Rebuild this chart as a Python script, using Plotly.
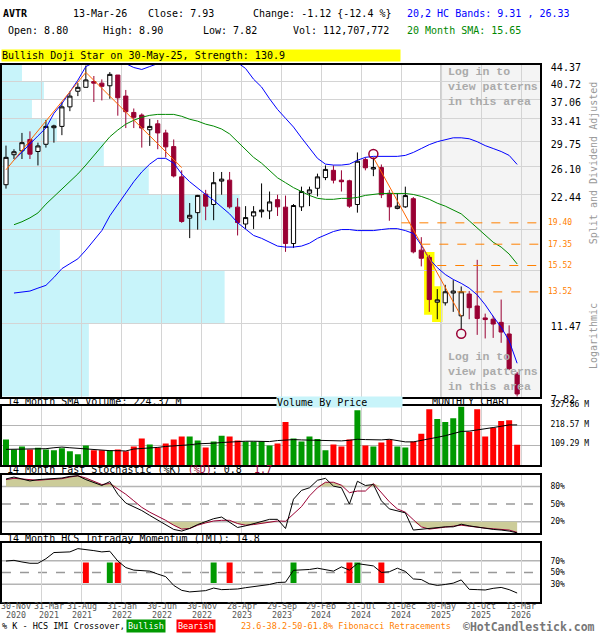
import math
import plotly.graph_objects as go

W, H = 600, 640
MONO = "DejaVu Sans Mono"
RED = "#990033"

# ── Data (monthly, Nov-2020 .. Mar-2026) ──────────────────────────────────────
months = list(range(65))

opens = [23.68, 27.70, 28.27, 30.00, 28.17, 29.25, 31.90, 32.12, 35.57, 38.60,
         39.40, 40.60, 40.27, 39.72, 42.01, 37.63, 34.55, 34.08, 31.56, 32.55,
         31.04, 28.90, 24.67, 19.88, 20.46, 22.54, 21.35, 24.13, 24.25, 21.06,
         19.28, 20.11, 20.56, 20.64, 21.90, 21.06, 17.41, 21.09, 22.65, 23.24,
         24.58, 25.53, 24.25, 24.17, 21.35, 27.00, 25.70, 25.90, 22.65, 20.92,
         21.09, 22.01, 16.82, 16.20, 12.81, 12.77, 13.44, 11.93, 13.37, 12.56,
         11.80, 11.72, 11.53, 10.85, 8.80]
highs = [29.05, 28.50, 31.04, 31.30, 29.50, 33.22, 32.40, 36.49, 38.52, 40.27,
         44.15, 41.80, 41.06, 42.66, 42.01, 38.86, 35.27, 34.38, 33.39, 33.22,
         31.56, 30.00, 25.53, 21.52, 22.45, 23.05, 25.31, 25.31, 25.31, 22.08,
         21.17, 21.17, 23.84, 22.85, 22.47, 22.37, 21.40, 23.44, 23.44, 25.09,
         26.19, 26.19, 25.53, 24.30, 28.03, 27.32, 27.30, 26.32, 23.05, 22.65,
         23.44, 22.20, 18.00, 16.40, 13.72, 14.03, 14.38, 13.91, 13.58, 15.99,
         12.07, 11.93, 12.99, 11.35, 8.90]
lows = [23.20, 27.08, 27.08, 27.08, 26.19, 28.75, 29.50, 30.68, 34.78, 37.63,
        39.40, 36.49, 36.79, 37.11, 33.97, 31.84, 31.84, 28.75, 29.00, 28.50,
        27.32, 24.60, 19.40, 17.91, 18.72, 19.67, 19.67, 22.47, 20.90, 18.16,
        18.79, 18.79, 19.94, 19.78, 20.11, 16.67, 17.02, 20.64, 21.17, 22.27,
        24.25, 23.84, 22.85, 20.98, 20.46, 25.53, 24.76, 22.08, 19.61, 20.82,
        20.98, 16.54, 15.45, 12.18, 11.72, 12.59, 12.18, 11.08, 11.72, 10.80,
        10.60, 10.63, 10.36, 8.98, 7.82]
closes = [27.32, 28.13, 29.50, 27.78, 29.00, 32.12, 32.20, 35.57, 37.63, 39.40,
          40.95, 40.27, 39.60, 42.16, 37.30, 34.68, 33.68, 31.84, 32.12, 31.04,
          28.86, 24.79, 19.54, 20.18, 22.39, 21.17, 23.93, 24.38, 21.09, 19.43,
          19.94, 20.56, 20.74, 21.64, 21.09, 17.41, 21.24, 22.85, 23.05, 24.67,
          25.65, 24.25, 24.05, 21.17, 26.77, 25.87, 25.90, 22.47, 21.09, 21.17,
          22.37, 16.67, 16.12, 12.99, 12.97, 13.53, 13.58, 13.53, 12.45, 11.77,
          11.70, 11.43, 10.96, 9.05, 7.93]

bb_upper = [None, 26.91, 28.03, 29.35, 30.57, 31.85, 34.38, 36.18, 38.46, 40.90,
            43.92, 44.83, 45.28, 45.52, 45.06, 44.60, 43.70, 43.25, 43.92, 44.60,
            45.06, 45.28, 45.52, 45.52, 45.28, 44.83, 44.83, 45.06, 45.06, 44.83,
            43.47, 41.10, 39.46, 37.11, 35.09, 33.51, 32.01, 30.26, 28.61, 27.18,
            26.37, 26.24, 26.24, 26.37, 26.91, 27.32, 27.46, 27.46, 27.46, 27.46,
            27.60, 28.03, 28.61, 29.20, 29.65, 29.96, 30.26, 30.26, 30.11, 29.65,
            29.05, 28.61, 28.17, 27.60, 26.33]
bb_lower = [None, 13.44, 13.51, 13.58, 13.79, 13.99, 14.58, 15.27, 15.67, 16.07,
            16.82, 17.71, 18.63, 20.12, 21.39, 22.73, 24.05, 25.31, 26.37, 27.18,
            27.18, 26.50, 25.05, 24.05, 23.21, 22.50, 21.83, 21.06, 20.33, 19.41,
            18.73, 18.16, 17.89, 17.53, 17.18, 17.09, 17.09, 17.18, 17.44, 17.89,
            18.25, 18.54, 18.73, 18.73, 18.63, 18.63, 18.63, 18.73, 18.82, 18.82,
            18.63, 18.35, 17.26, 16.07, 15.35, 14.81, 14.43, 14.14, 13.79, 13.31,
            12.64, 11.89, 11.24, 10.47, 9.31]
sma20 = [None, 19.21, 19.51, 19.91, 20.43, 21.39, 22.27, 23.09, 24.05, 25.05,
         26.24, 27.60, 28.90, 30.42, 31.52, 32.50, 33.17, 33.69, 34.03, 34.20,
         34.20, 34.20, 33.86, 33.34, 33.01, 32.50, 32.17, 31.68, 30.88, 29.65,
         28.46, 27.32, 26.50, 25.57, 24.55, 23.93, 23.32, 22.85, 22.39, 22.05,
         21.94, 21.94, 22.05, 22.05, 22.16, 22.39, 22.50, 22.62, 22.62, 22.62,
         22.62, 22.50, 22.27, 21.94, 21.50, 21.17, 20.75, 20.33, 19.61, 18.92,
         18.25, 17.53, 17.09, 16.48, 15.65]

# volume in millions
volumes = [142, 87, 104, 87, 97, 87, 82, 93, 77, 60,
           109, 82, 82, 82, 87, 77, 104, 148, 115, 98,
           120, 142, 159, 159, 137, 98, 131, 164, 159, 137,
           131, 131, 133, 109, 120, 240, 148, 131, 159, 146,
           82, 115, 104, 142, 306, 109, 104, 126, 142, 104,
           98, 131, 175, 312, 257, 240, 262, 327, 186, 312,
           159, 208, 246, 251, 112.7]
vol_sma = [87.4, 87.4, 89.3, 89.3, 89.3, 91.1, 96.5, 100.2, 96.5, 92.9,
           91.1, 85.6, 82.0, 80.1, 80.1, 78.3, 89.3, 91.1, 94.7, 98.4,
           103.8, 105.6, 109.3, 112.9, 118.4, 118.4, 122.0, 125.7, 129.3, 133.0,
           133.0, 133.0, 131.1, 131.1, 136.6, 140.3, 142.1, 140.3, 138.4, 136.6,
           136.6, 134.8, 134.8, 138.4, 143.9, 142.1, 140.3, 140.3, 143.9, 136.6,
           129.3, 129.3, 136.6, 145.7, 154.8, 163.9, 176.7, 187.6, 189.4, 194.9,
           204.0, 209.5, 216.8, 224.0, 224.37]

stoch_k = [92.8, 96.1, 92.8, 89.4, 91.7, 92.2, 93.3, 94.4, 97.2, 98.3,
           91.7, 86.1, 81.7, 88.3, 66.7, 51.7, 45.6, 38.9, 30.6, 22.2,
           13.9, 6.7, 3.9, 8.3, 15.0, 19.4, 25.0, 27.8, 18.3, 10.0,
           12.8, 16.7, 19.4, 23.9, 23.9, 8.3, 58.3, 73.3, 77.8, 90.6,
           93.9, 80.6, 77.8, 50.0, 88.9, 81.7, 83.3, 55.6, 41.7, 38.9,
           35.0, 5.6, 7.2, 8.9, 10.0, 11.1, 11.1, 15.6, 12.8, 10.6,
           8.3, 6.7, 5.6, 3.9, 0.8]
stoch_d = [91.7, 93.9, 92.8, 91.7, 90.6, 91.7, 92.8, 93.3, 96.1, 98.3,
           94.4, 88.9, 83.3, 85.0, 76.1, 66.7, 55.6, 44.4, 36.1, 29.4,
           22.2, 13.9, 7.2, 8.3, 13.9, 17.8, 21.1, 22.2, 22.2, 16.7,
           13.9, 15.0, 16.7, 19.4, 21.1, 20.6, 33.3, 45.6, 63.9, 77.8,
           87.2, 87.2, 82.2, 69.4, 72.2, 72.2, 85.0, 69.4, 53.9, 41.7,
           36.1, 23.3, 11.1, 7.2, 9.4, 10.6, 12.2, 13.9, 12.2, 10.0,
           8.9, 7.8, 6.7, 5.6, 1.7]
imi = [69.4, 70.6, 67.8, 65.6, 65.6, 73.3, 83.9, 83.9, 85.0, 90.6,
       89.4, 87.2, 85.0, 86.1, 69.4, 58.3, 53.9, 53.3, 52.2, 47.2,
       42.8, 27.8, 19.4, 16.7, 17.8, 18.9, 23.3, 20.6, 21.1, 21.7,
       23.9, 25.6, 26.7, 29.4, 32.8, 33.3, 53.6, 54.4, 55.0, 57.2,
       55.0, 52.2, 59.4, 53.9, 65.0, 62.8, 61.1, 50.0, 51.1, 57.2,
       51.7, 38.9, 37.8, 30.6, 27.8, 29.4, 31.7, 37.2, 21.1, 20.6,
       20.0, 22.8, 24.4, 20.6, 14.8]
bull_cross = [13, 26, 36, 44]
bear_cross = [10, 14, 28, 43, 47]

price_ticks = [7.82, 11.47, 15.13, 18.78, 22.44, 26.10, 29.75, 33.41, 37.06, 40.72, 44.37]
price_labels = ["7.82", "11.47", "", "", "22.44", "26.10", "29.75", "33.41", "37.06", "40.72", "44.37"]
vol_ticks = [109.29, 218.57, 327.86]
# volume by price, one value per band between consecutive price ticks (bottom first)
vbp_volume = [87, 223, 58, 238, 147, 102, 55, 30, 42, 20]

fib_levels = [19.40, 17.35, 15.52, 13.52]
fib_from = [49.5, 52, 54, 56.5]
zigzag_x = [0, 10, 22]
zigzag_y = [25.6, 42.6, 25.9]
trend_x = [46, 57]
trend_y = [27.3, 11.9]
pattern_x = [53, 54]
circle_x = [46, 57]
circle_y = [27.8, 10.86]

date_days = ["30-Nov", "31-Mar", "31-Aug", "31-Jan", "30-Jun", "30-Nov", "28-Apr",
             "29-Sep", "29-Feb", "31-Jul", "31-Dec", "30-May", "31-Oct", "13-Mar"]
date_years = ["2020", "2021", "2021", "2022", "2022", "2022", "2023",
              "2023", "2024", "2024", "2024", "2025", "2025", "2026"]

# ── Geometry helpers ──────────────────────────────────────────────────────────
X0 = -0.5
X1 = -0.5 + 539 / 8
grid_x = [4.5 + 5 * k for k in range(13)]


def py(y):
    return 1 - y / H


def px(x):
    return x / W


def note(text, x, y, size=10, color="black", family=MONO, **kw):
    d = dict(text=text, x=px(x), y=py(y), xref="paper", yref="paper",
             xanchor="left", yanchor="middle", showarrow=False,
             font=dict(family=family, size=size, color=color))
    d.update(kw)
    return d


fig = go.Figure()

# ── Price panel ──────────────────────────────────────────────────────────────
fig.add_trace(go.Scatter(x=months, y=bb_upper, mode="lines",
                         line=dict(color="#0000ff", width=1), xaxis="x", yaxis="y"))
fig.add_trace(go.Scatter(x=months, y=bb_lower, mode="lines",
                         line=dict(color="#0000ff", width=1), xaxis="x", yaxis="y"))
fig.add_trace(go.Scatter(x=months, y=sma20, mode="lines",
                         line=dict(color="#008800", width=1), xaxis="x", yaxis="y"))
fig.add_trace(go.Scatter(x=zigzag_x, y=zigzag_y, mode="lines",
                         line=dict(color="#ff6600", width=1), xaxis="x", yaxis="y"))
fig.add_trace(go.Scatter(x=trend_x, y=trend_y, mode="lines",
                         line=dict(color="#ff6600", width=1), xaxis="x", yaxis="y"))
for lvl, start in zip(fib_levels, fib_from):
    fig.add_trace(go.Scatter(x=[start, X1], y=[lvl, lvl], mode="lines",
                             line=dict(color="#ff8000", width=1, dash="dash"),
                             xaxis="x", yaxis="y"))

fig.add_trace(go.Candlestick(
    x=months, open=opens, high=highs, low=lows, close=closes,
    increasing=dict(line=dict(color="black", width=1), fillcolor="white"),
    decreasing=dict(line=dict(color=RED, width=1), fillcolor=RED),
    xaxis="x", yaxis="y",
))
fig.add_trace(go.Scatter(x=circle_x, y=circle_y, mode="markers",
                         marker=dict(symbol="circle-open", size=9, color=RED,
                                     line=dict(width=1.5)),
                         xaxis="x", yaxis="y"))

# ── Volume panel ─────────────────────────────────────────────────────────────
vol_colors = ["#009900" if c >= o else "#ff0000" for o, c in zip(opens, closes)]
fig.add_trace(go.Bar(x=months, y=volumes, width=0.75, marker=dict(color=vol_colors, line_width=0),
                     xaxis="x2", yaxis="y2"))
fig.add_trace(go.Scatter(x=months, y=vol_sma, mode="lines",
                         line=dict(color="black", width=1), xaxis="x2", yaxis="y2"))

# ── Stochastic panel ─────────────────────────────────────────────────────────
fig.add_trace(go.Scatter(x=months, y=[80] * len(months), mode="lines", line_width=0,
                         xaxis="x3", yaxis="y3"))
fig.add_trace(go.Scatter(x=months, y=[max(d, 80) for d in stoch_d], mode="lines", line_width=0,
                         fill="tonexty", fillcolor="#cccc99", xaxis="x3", yaxis="y3"))
fig.add_trace(go.Scatter(x=months, y=[20] * len(months), mode="lines", line_width=0,
                         xaxis="x3", yaxis="y3"))
fig.add_trace(go.Scatter(x=months, y=[min(d, 20) for d in stoch_d], mode="lines", line_width=0,
                         fill="tonexty", fillcolor="#cccc99", xaxis="x3", yaxis="y3"))
fig.add_trace(go.Scatter(x=months, y=stoch_d, mode="lines",
                         line=dict(color=RED, width=1), xaxis="x3", yaxis="y3"))
fig.add_trace(go.Scatter(x=months, y=stoch_k, mode="lines",
                         line=dict(color="black", width=1), xaxis="x3", yaxis="y3"))

# ── IMI panel ────────────────────────────────────────────────────────────────
fig.add_trace(go.Bar(x=bull_cross, y=[35] * len(bull_cross), base=32, width=0.75,
                     marker=dict(color="#009900", line_width=0), xaxis="x4", yaxis="y4"))
fig.add_trace(go.Bar(x=bear_cross, y=[35] * len(bear_cross), base=32, width=0.75,
                     marker=dict(color="#ff0000", line_width=0), xaxis="x4", yaxis="y4"))
fig.add_trace(go.Scatter(x=months, y=imi, mode="lines",
                         line=dict(color="black", width=1), xaxis="x4", yaxis="y4"))

# ── Shapes ───────────────────────────────────────────────────────────────────
shapes = []
for lo, hi, v in zip(price_ticks[:-1], price_ticks[1:], vbp_volume):
    shapes.append(dict(type="rect", xref="x", yref="y", x0=X0, x1=X0 + v / 8,
                       y0=lo, y1=hi, fillcolor="#c8f4fa", line_width=0, layer="below"))
shapes.append(dict(type="rect", xref="x", yref="paper", x0=54.5, x1=X1, y0=py(400), y1=py(60),
                   fillcolor="#f4f4f4", line_width=0, layer="below"))
shapes.append(dict(type="line", xref="x", yref="paper", x0=54.5, x1=54.5, y0=py(400), y1=py(60),
                   line=dict(color="#999999", width=1.5), layer="below"))
for i in pattern_x:
    shapes.append(dict(type="rect", xref="x", yref="y", x0=i - 0.65, x1=i + 0.65,
                       y0=lows[i] * 0.985, y1=highs[i] * 1.015,
                       fillcolor="#ffff00", line_width=0, layer="below"))
for ax, lo_hi, mid in (("3", (20, 80), 50), ("4", (30, 70), 50)):
    for v in lo_hi:
        shapes.append(dict(type="line", xref="paper", yref=f"y{ax}", x0=px(1), x1=px(540),
                           y0=v, y1=v, line=dict(color="#b4b4b4", width=1.5), layer="below"))
    shapes.append(dict(type="line", xref="paper", yref=f"y{ax}", x0=px(1), x1=px(540),
                       y0=mid, y1=mid, line=dict(color="#999999", width=1.5, dash="dash"),
                       layer="below"))

# ── Annotations ──────────────────────────────────────────────────────────────
ann = [
    note("<b>AVTR</b>", 0, 8),
    note("13-Mar-26", 70, 8),
    note("Close: 7.93", 145, 8),
    note("Change: -1.12 {-12.4 %}", 250, 8),
    note("20,2 HC Bands: 9.31 , 26.33", 405, 8, color="#0000ff"),
    note("Open: 8.80", 5, 25),
    note("High: 8.90", 100, 25),
    note("Low: 7.82", 200, 25),
    note("Vol: 112,707,772", 290, 25),
    note("20 Month SMA: 15.65", 405, 25, color="#008800"),
    note("Bullish Doji Star on 30-May-25, Strength: 130.9", 0, 51, bgcolor="#ffff00",
         width=398, height=11, align="left", borderpad=0),
    note("<b>Log in to<br>view patterns<br>in this area</b>", 446, 82, size=11.5,
         color="#aaaaaa", family="Liberation Mono", align="left"),
    note("<b>Log in to<br>view patterns<br>in this area</b>", 446, 374, size=11.5,
         color="#aaaaaa", family="Liberation Mono", align="left"),
    note("Split and Dividend Adjusted", 593, 161, color="#999999", textangle=-90,
         xanchor="center"),
    note("Logarithmic", 593, 338, color="#999999", textangle=-90, xanchor="center"),
    note("14 Month SMA Volume: 224.37 M", 4, 405),
    note("Volume By Price", 275, 405, bgcolor="#c8f4fa", width=125, height=10,
         align="left", borderpad=0),
    note("MONTHLY CHART", 430, 405),
    note(f"14 Month Fast Stochastic (%K) <span style='color:{RED}'>(%D)</span>: 0.8  "
         f"<span style='color:{RED}'>1.7</span>", 4, 475),
    note("14 Month HCS Intraday Momentum (IMI): 14.8", 4, 545),
    note("% K - HCS IMI Crossover,", 0, 635, size=8.5, borderpad=0),
    note("Bullish", 125, 635, size=8.5, color="white", bgcolor="#009900", borderpad=1),
    note("Bearish", 175, 635, size=8.5, color="white", bgcolor="#ff0000", borderpad=1),
    note("23.6-38.2-50-61.8% Fibonacci Retracements", 238, 635, size=8.5, color="#ff8000"),
    note("<b>©HotCandlestick.com</b>", 462, 636, size=11.5, color="#777777", borderpad=0),
]
for lvl in fib_levels:
    ann.append(dict(text=f"{lvl:.2f}", x=px(546), xref="paper", y=math.log10(lvl), yref="y",
                    xanchor="left", yanchor="middle", showarrow=False,
                    font=dict(family=MONO, size=8, color="#ff8000")))
date_pos = [X0] + grid_x
date_shift = [14, 7] + [0] * 12
for pos, shift, day, year in zip(date_pos, date_shift, date_days, date_years):
    for text, ypx in ((day, 614), (year, 624)):
        ann.append(dict(text=text, x=pos, xref="x4", y=py(ypx), yref="paper",
                        xanchor="center", yanchor="middle", xshift=shift, showarrow=False,
                        borderpad=0, font=dict(family=MONO, size=8.3, color="#555555")))

# ── Axes ─────────────────────────────────────────────────────────────────────
frame = dict(showline=True, mirror=True, linecolor="black", linewidth=1.5, zeroline=False)
xbase = dict(domain=[px(1), px(540)], range=[X0, X1], tickvals=grid_x, showticklabels=False,
             showgrid=True, gridcolor="#d4d4d4", gridwidth=1, ticks="", **frame)
ybase = dict(side="right", showgrid=True, gridcolor="#d4d4d4", ticks="outside", ticklen=7,
             tickcolor="rgba(0,0,0,0)", **frame)

fig.update_layout(
    width=W, height=H,
    margin=dict(l=0, r=0, t=0, b=0),
    paper_bgcolor="white", plot_bgcolor="white",
    showlegend=False, barmode="overlay", boxgap=0.25,
    font=dict(family=MONO, size=10, color="black"),
    xaxis=dict(xbase, anchor="y", rangeslider=dict(visible=False)),
    xaxis2=dict(xbase, anchor="y2", matches="x"),
    xaxis3=dict(xbase, anchor="y3", matches="x"),
    xaxis4=dict(xbase, anchor="y4", matches="x"),
    yaxis=dict(ybase, anchor="x", domain=[py(400), py(60)], type="log",
               range=[math.log10(7.82), math.log10(44.37)],
               tickvals=price_ticks, ticktext=price_labels, ticklabelshift=3,
               tickfont=dict(family=MONO, size=10)),
    yaxis2=dict(ybase, anchor="x2", domain=[py(470), py(410)], range=[0, 327.86],
                tickvals=vol_ticks, ticktext=[f"{v:.2f} M" for v in vol_ticks],
                ticklabelshift=-2, gridcolor="#b4b4b4", tickfont=dict(family=MONO, size=8)),
    yaxis3=dict(ybase, anchor="x3", domain=[py(540), py(480)], range=[0, 100],
                tickvals=[20, 50, 80], ticktext=["20%", "50%", "80%"], showgrid=False,
                tickfont=dict(family=MONO, size=8)),
    yaxis4=dict(ybase, anchor="x4", domain=[py(610), py(550)], range=[0, 100],
                tickvals=[30, 50, 70], ticktext=["30%", "50%", "70%"], showgrid=False,
                tickfont=dict(family=MONO, size=8)),
    shapes=shapes,
    annotations=ann,
)

fig.write_html("out.html", config={"displayModeBar": False},
               post_script="document.body.style.margin='0px';")
